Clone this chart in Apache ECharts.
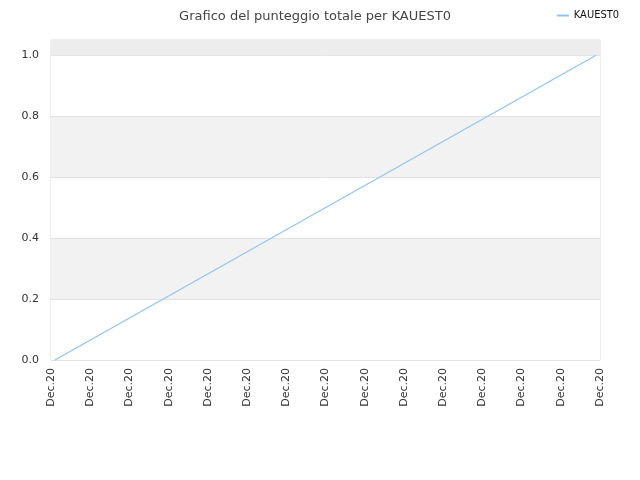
<!DOCTYPE html>
<html><head><meta charset="utf-8">
<script src="https://cdn.jsdelivr.net/npm/echarts@6/dist/echarts.min.js"></script>
<style>html,body{margin:0;padding:0;background:#fff}#c{width:640px;height:480px}</style>
</head><body><div id="c"></div>
<script>
var title = 'Grafico del punteggio totale per KAUEST0';
var seriesName = 'KAUEST0';
var tickLabels = ['Dec.20','Dec.20','Dec.20','Dec.20','Dec.20','Dec.20','Dec.20','Dec.20','Dec.20','Dec.20','Dec.20','Dec.20','Dec.20','Dec.20','Dec.20'];
var xValues = [0.1, 13.9];
var yValues = [0.0, 1.0];

var chart = echarts.init(document.getElementById('c'));
chart.setOption({
  animation: false,
  backgroundColor: '#fff',
  title: {text: title, left: 310, textAlign: 'center', top: 5,
    textStyle: {fontFamily: 'DejaVu Sans', fontSize: 13, fontWeight: 'normal', color: '#444'}},
  legend: {right: 16, top: 5, itemWidth: 12, itemHeight: 2, itemGap: 5,
    icon: 'rect',
    textStyle: {fontFamily: 'DejaVu Sans Condensed', fontSize: 11, color: '#111'},
    data: [seriesName]},
  grid: {left: 51, right: 40, top: 40, bottom: 120, show: true, borderColor: '#ddd', borderWidth: 1},
  xAxis: {type: 'value', min: 0, max: tickLabels.length - 1, interval: 1,
    axisLine: {show: false}, axisTick: {show: false}, splitLine: {show: false},
    axisLabel: {rotate: 90, fontFamily: 'DejaVu Sans', fontSize: 11, color: '#333', margin: 8,
      showMinLabel: true, showMaxLabel: true,
      formatter: function(v){ return tickLabels[Math.round(v)] || ''; }}},
  yAxis: {type: 'value', min: 0, max: 1.05, interval: 0.2,
    axisLine: {show: false}, axisTick: {show: false},
    splitLine: {show: true, lineStyle: {color: '#e2e2e2'}},
    splitArea: {show: true, areaStyle: {color: ['#fff', '#f2f2f2']}},
    axisLabel: {fontFamily: 'DejaVu Sans', fontSize: 11, color: '#333', margin: 12, showMaxLabel: false,
      formatter: function(v){ return v.toFixed(1); }}},
  series: [{name: seriesName, type: 'line', symbol: 'none',
    lineStyle: {color: '#93c4f5', width: 1.3}, itemStyle: {color: '#93c4f5'},
    markArea: {silent: true, itemStyle: {color: '#ededed'},
      data: [[{yAxis: 1.0}, {yAxis: 1.05}]]},
    data: xValues.map(function(x, i){ return [x, yValues[i]]; })}]
});
</script></body></html>
